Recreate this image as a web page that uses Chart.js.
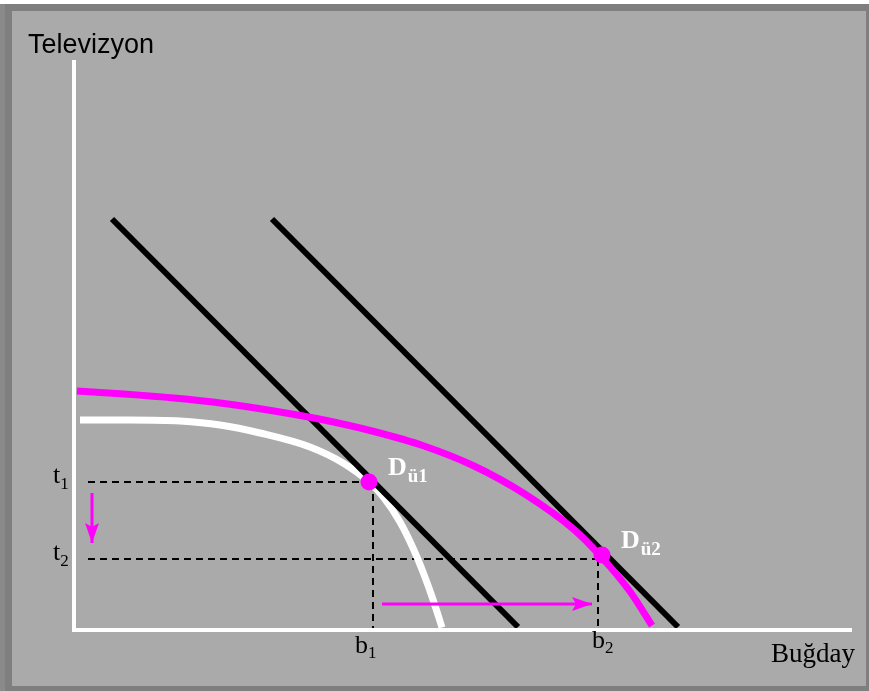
<!DOCTYPE html>
<html>
<head>
<meta charset="utf-8">
<script src="https://cdn.jsdelivr.net/npm/chart.js@4"></script>
<style>
  html, body { margin: 0; padding: 0; background: #fff; }
  #frame {
    position: absolute; left: 5px; top: 4px;
    width: 854px; height: 675px;
    background: #aaaaaa;
    border-style: solid; border-color: #7f7f7f;
    border-width: 7px 3px 5px 7px;
    box-shadow: -5px 0 0 #8a8a8a;
  }
  #chart { position: absolute; left: 0; top: 0; }
</style>
</head>
<body>
<div id="frame"></div>
<canvas id="chart" width="869" height="691"></canvas>
<script>
// values (x: Buğday, y: Televizyon, arbitrary units)
const axisTop = 570;
const axisRight = 778;

const ppfOld = [[6,210],[56,210],[106,209],[146,205],[186,197],[236,183],[269,167],[295,148],[309,133.3],[326,108],[339,82],[349,58],[359,30.5],[368,2.5]];
const ppfNew = [[3,239],[50,236],[100,232],[150,226.5],[200,219],[250,210],[300,198.5],[350,184],[400,164],[450,136.5],[500,100.5],[526,74.5],[556,38.5],[578,4.4]];
const priceLine1 = [[38,411],[444,3]];
const priceLine2 = [[198,411],[604,3]];

const tValues = [148, 71];   // t1, t2
const bValues = [299, 524];  // b1, b2
const equilibria = [[295,148],[528,75]]; // Dü1, Dü2

const arrowDown = [[18,137],[18,87]];
const arrowRight = [[308,26],[518,26]];

const pts = a => a.map(p => ({ x: p[0], y: p[1] }));

// a small plugin for the arrow heads and the text labels
const annotate = {
  id: 'annotate',
  afterDatasetsDraw(chart) {
    const { ctx, scales: { x, y } } = chart;
    ctx.save();

    // arrow heads
    chart.data.datasets.forEach(ds => {
      if (!ds.arrow) return;
      const n = ds.data.length;
      const a = ds.data[n - 2], b = ds.data[n - 1];
      const x1 = x.getPixelForValue(a.x), y1 = y.getPixelForValue(a.y);
      const x2 = x.getPixelForValue(b.x), y2 = y.getPixelForValue(b.y);
      const ang = Math.atan2(y2 - y1, x2 - x1);
      ctx.save();
      ctx.translate(x2, y2);
      ctx.rotate(ang);
      ctx.fillStyle = ds.borderColor;
      ctx.beginPath();
      ctx.moveTo(0, 0);
      ctx.lineTo(-20, -7);
      ctx.lineTo(-16, 0);
      ctx.lineTo(-20, 7);
      ctx.closePath();
      ctx.fill();
      ctx.restore();
    });

    const sub = (main, s, px, py, f1, f2, dx, dy, color) => {
      ctx.fillStyle = color;
      ctx.textBaseline = 'alphabetic';
      ctx.textAlign = 'left';
      ctx.font = f1;
      ctx.fillText(main, px, py);
      const w = ctx.measureText(main).width;
      ctx.font = f2;
      ctx.fillText(s, px + w + dx, py + dy);
    };

    const serif = '"Liberation Serif", "Times New Roman", serif';

    // t1, t2
    tValues.forEach((t, i) => {
      sub('t', String(i + 1), 53, y.getPixelForValue(t) + 1,
        '26px ' + serif, '17px ' + serif, 0, 6, '#000');
    });
    // b1, b2
    const bOff = [[-18, 653], [-6, 648]];
    bValues.forEach((b, i) => {
      sub('b', String(i + 1), x.getPixelForValue(b) + bOff[i][0], bOff[i][1],
        '26px ' + serif, '17px ' + serif, 0, 5, '#000');
    });
    // Dü1, Dü2
    equilibria.forEach((p, i) => {
      sub('D', 'ü' + (i + 1), x.getPixelForValue(p[0]) + 19, y.getPixelForValue(p[1]) - 7,
        'bold 26px ' + serif, 'bold 19px ' + serif, 1, 7, '#fff');
    });

    // axis titles
    ctx.fillStyle = '#000';
    ctx.font = '27px "Liberation Sans", Arial, sans-serif';
    ctx.fillText('Televizyon', 28, 53);
    ctx.font = '27px ' + serif;
    ctx.fillText('Buğday', 771, 662);
    ctx.restore();
  }
};

const line = (data, color, width, extra) => Object.assign({
  data: pts(data), showLine: true, borderColor: color, borderWidth: width,
  pointRadius: 0, fill: false, clip: false
}, extra || {});

const dash = [7, 5];

// first dataset is drawn on top
new Chart(document.getElementById('chart'), {
  type: 'scatter',
  data: {
    datasets: [
      // equilibrium points
      { data: pts(equilibria), showLine: false, pointRadius: 8.5, pointBackgroundColor: '#ff00ff',
        pointBorderWidth: 0, clip: false },
      // axes
      line([[0, axisTop], [0, 0], [axisRight, 0]], '#ffffff', 4, { borderJoinStyle: 'miter' }),
      // arrows
      line(arrowDown, '#ff00ff', 3, { arrow: true }),
      line(arrowRight, '#ff00ff', 3, { arrow: true }),
      // new production possibility curve
      line(ppfNew, '#ff00ff', 7, { cubicInterpolationMode: 'monotone' }),
      // price lines
      line(priceLine1, '#000', 6),
      line(priceLine2, '#000', 6),
      // old production possibility curve
      line(ppfOld, '#ffffff', 7, { cubicInterpolationMode: 'monotone' }),
      // guide lines
      line([[14, tValues[0]], [equilibria[0][0], tValues[0]]], '#000', 2, { borderDash: dash }),
      line([[bValues[0], tValues[0]], [bValues[0], 0]], '#000', 2, { borderDash: dash }),
      line([[14, tValues[1]], [bValues[1], tValues[1]]], '#000', 2, { borderDash: dash }),
      line([[bValues[1], tValues[1]], [bValues[1], 0]], '#000', 2, { borderDash: dash })
    ]
  },
  options: {
    responsive: false,
    animation: false,
    events: [],
    layout: { padding: { left: 74, right: 17, top: 60, bottom: 61 } },
    scales: {
      x: { type: 'linear', min: 0, max: axisRight, display: false },
      y: { type: 'linear', min: 0, max: axisTop, display: false }
    },
    plugins: { legend: { display: false }, tooltip: { enabled: false } }
  },
  plugins: [annotate]
});
</script>
</body>
</html>
